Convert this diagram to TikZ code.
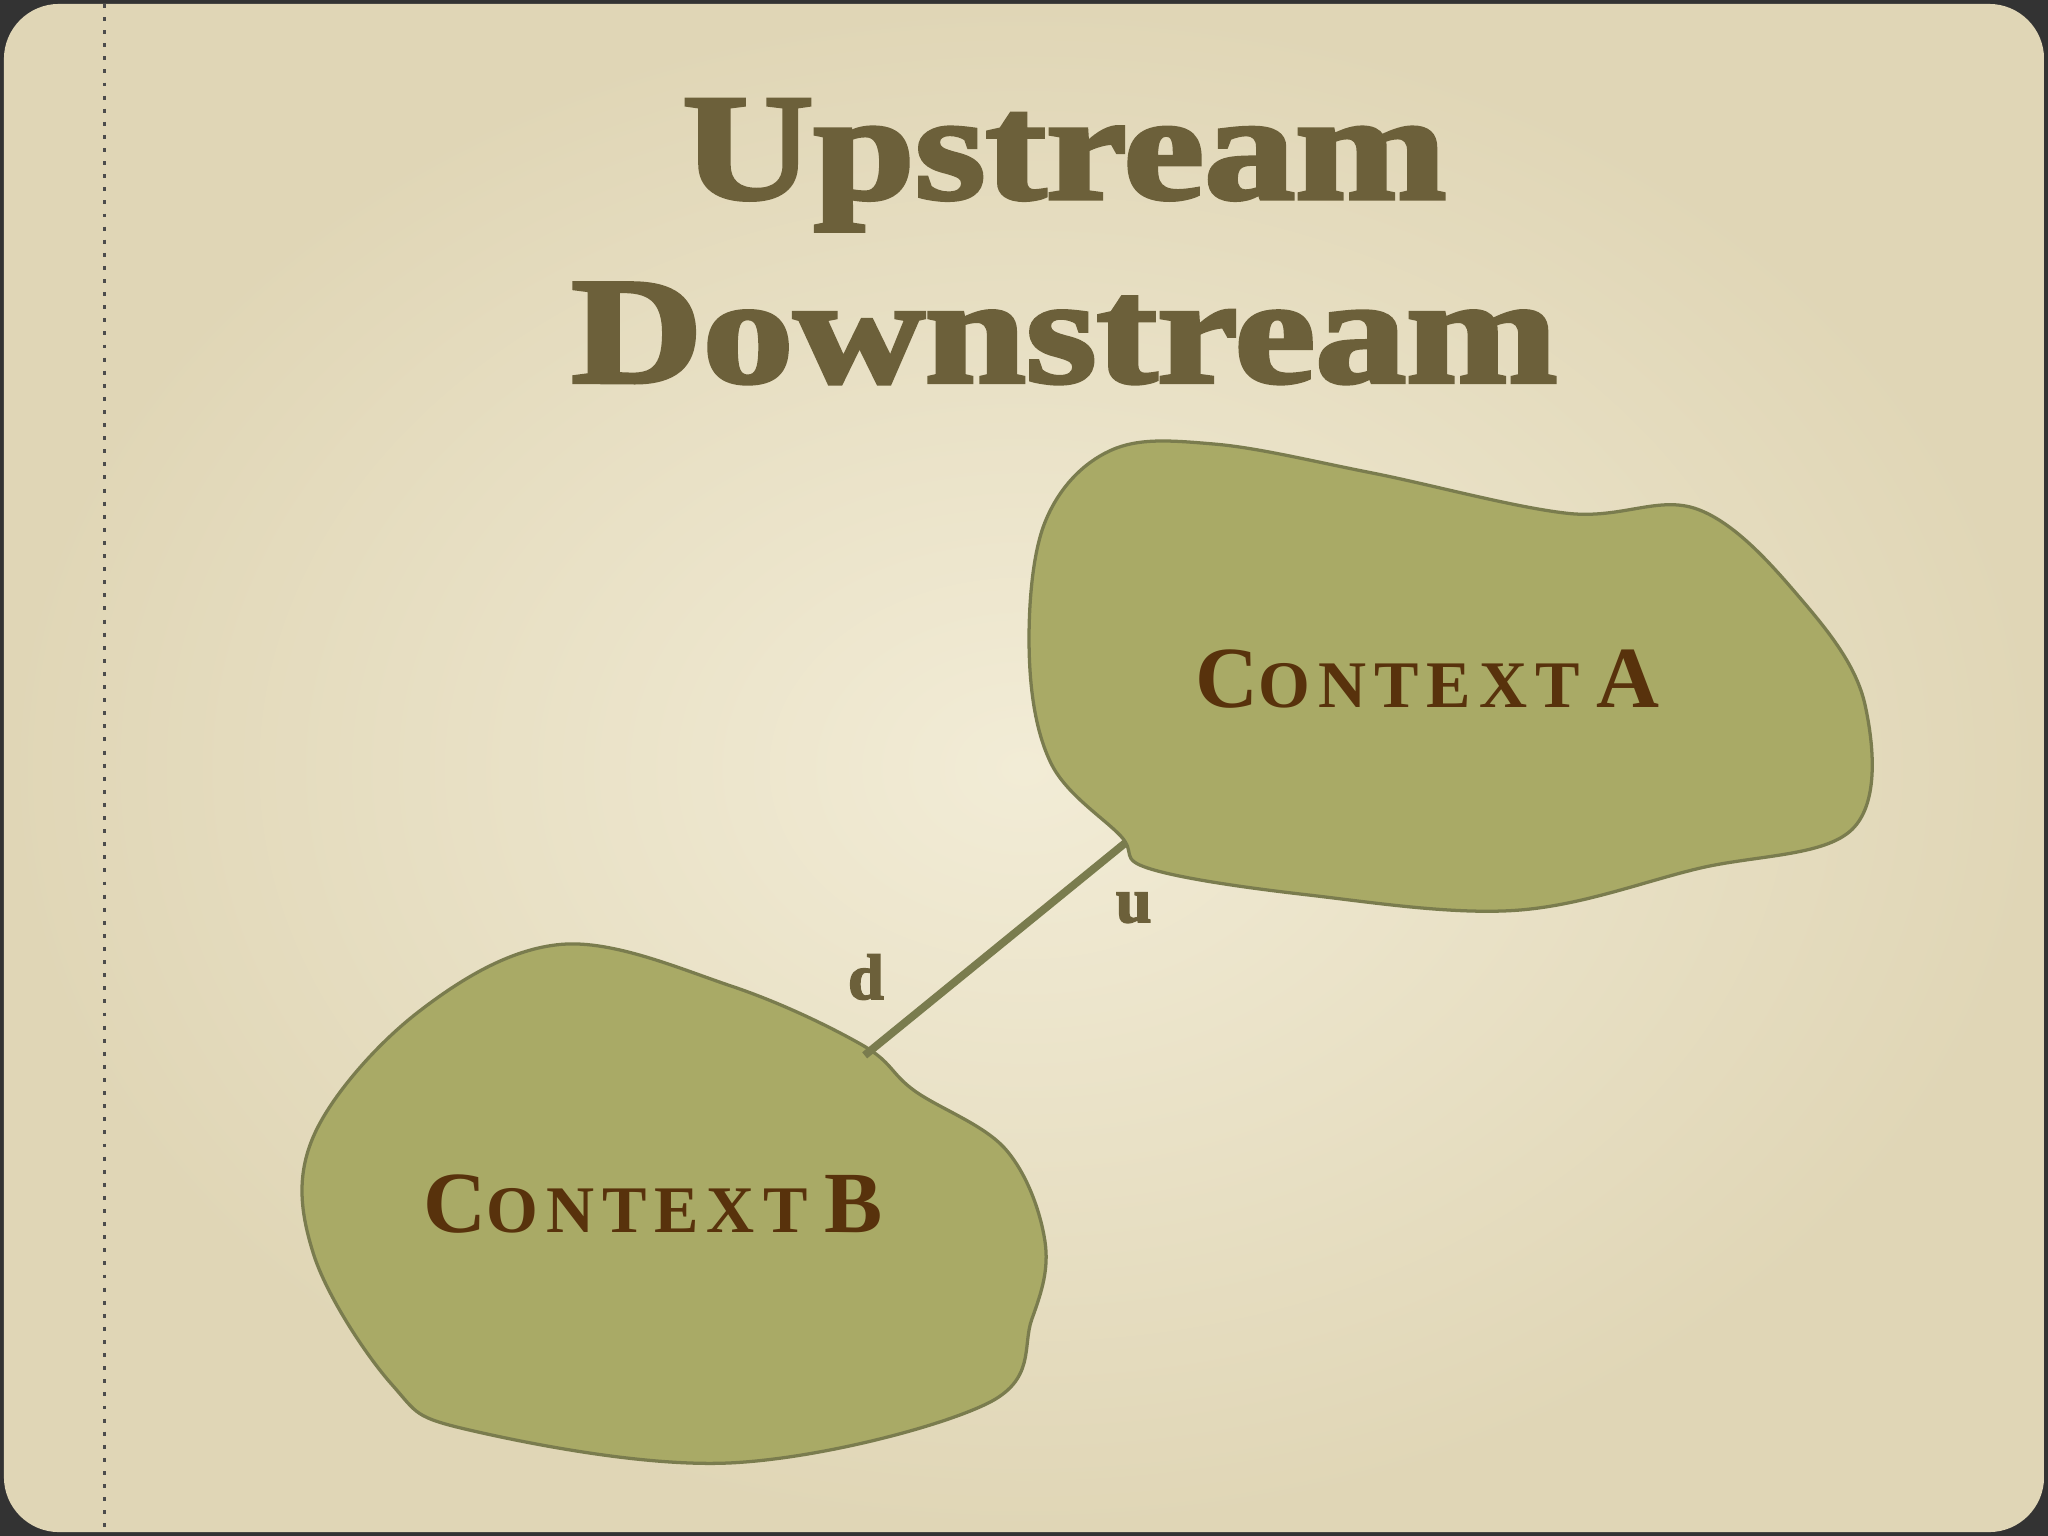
\documentclass[tikz,border=0pt]{standalone}
\usepackage{graphicx}
\usepackage{fontspec}
\setmainfont{Liberation Serif}
\newfontfamily\titlefont[FakeBold=2.5]{Liberation Serif Bold}
\newfontfamily\ctxfont[LetterSpace=12]{Liberation Serif Bold}
\definecolor{bgc}{RGB}{242,236,214}
\definecolor{bge}{RGB}{224,214,182}
\definecolor{titlec}{RGB}{108,96,58}
\definecolor{blobf}{RGB}{169,170,102}
\definecolor{blobd}{RGB}{122,124,78}
\definecolor{txtc}{RGB}{88,50,12}
\tikzset{blob/.style={fill=blobf,draw=blobd,line width=0.25mm},
 ctx/.style={text=txtc,font=\ctxfont},
 lab/.style={text=titlec,font=\titlefont\fontsize{14}{14}\selectfont}}
\newcommand{\ctxname}[2]{{\fontsize{19}{19}\selectfont #1}{\fontsize{14.5}{14}\selectfont #2}}
\begin{document}
\begin{tikzpicture}[x=0.1mm,y=-0.1mm]
\useasboundingbox (0,0) rectangle (1568,1176);
\fill[black!80] (0,0) rectangle (1568,1176);
\shade[inner color=bgc,outer color=bge,rounded corners=12] (3,3) rectangle (1565,1173);
\draw[black!70,dotted,line width=0.3mm] (80,3) -- (80,1173);
\node[text=titlec,font=\titlefont\fontsize{33}{40}\selectfont,align=center] (title) at (815,185) {\scalebox{1.2}[1]{Upstream}\\\scalebox{1.2}[1]{Downstream}};
\draw[blob] plot[smooth cycle,tension=0.6] coordinates {(858,640) (805,585) (788,500) (800,400) (850,345) (930,340) (1050,362) (1200,393) (1300,390) (1380,460) (1428,540) (1418,635) (1300,665) (1160,697) (1000,685) (880,665)} ;
\draw[blob] plot[smooth cycle,tension=0.6] coordinates {(660,800) (560,755) (430,723) (320,775) (240,870) (240,960) (300,1060) (360,1095) (560,1120) (755,1075) (790,1010) (800,950) (770,880) (700,835)};
\node[ctx] (a) at (1093,520) {\ctxname{C}{ONTEXT} \ctxname{A}{}};
\node[ctx] (b) at (500,922) {\ctxname{C}{ONTEXT} \ctxname{B}{}};
\coordinate (pa) at (862,645);
\coordinate (pb) at (662,808);
\draw[blobd,line width=0.6mm] (pa) -- (pb);
\node[lab] (u) at (868,695) {u};
\node[lab] (d) at (663,748) {d};
\end{tikzpicture}
\end{document}
